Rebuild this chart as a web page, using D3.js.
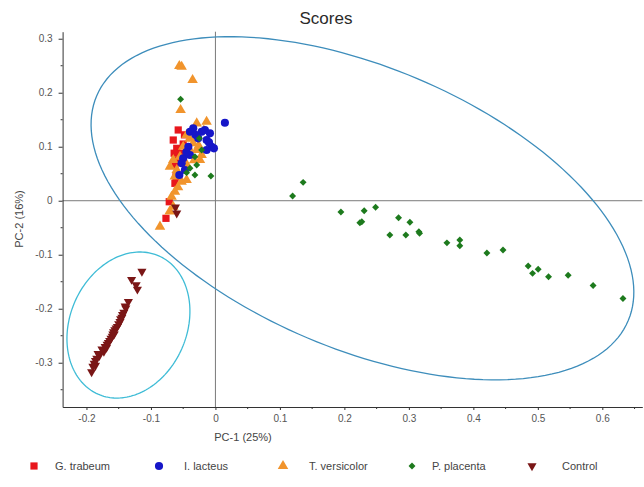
<!DOCTYPE html>
<html>
<head>
<meta charset="utf-8">
<script src="https://cdn.jsdelivr.net/npm/d3@7"></script>
<style>
  html, body { margin: 0; padding: 0; background: #fff; }
  svg { display: block; font-family: "Liberation Sans", Arial, sans-serif; }
</style>
</head>
<body>
<svg id="chart" width="644" height="487"></svg>
<script>
// PCA scores, [PC-1, PC-2]
const gTrabeum = [
  [-0.0577, 0.131], [-0.060, 0.097], [-0.055, 0.0878], [-0.0628, 0.066],
  [-0.0612, 0.0444], [-0.0628, 0.0322], [-0.0716, -0.0019], [-0.0767, -0.0326],
  [-0.0654, 0.1124], [-0.050, 0.105], [-0.058, 0.075], [-0.064, 0.088],
  [-0.048, 0.122]
];
const tVersicolor = [
  [-0.056, 0.2494], [-0.0524, 0.248], [-0.0354, 0.2235], [-0.054, 0.168],
  [-0.0137, 0.1463], [-0.029, 0.1433], [-0.0447, 0.1217], [-0.0344, 0.1063],
  [-0.029, 0.0939], [-0.0214, 0.0846], [-0.024, 0.0754], [-0.0395, 0.0939],
  [-0.055, 0.0815], [-0.0654, 0.0754], [-0.0705, 0.063], [-0.060, 0.0569],
  [-0.0524, 0.0352], [-0.0447, 0.0383], [-0.0628, 0.0167], [-0.068, 0.0074],
  [-0.0654, -0.0111], [-0.086, -0.048], [-0.040, 0.115], [-0.018, 0.130],
  [-0.050, 0.100], [-0.033, 0.075], [-0.045, 0.068], [-0.058, 0.025],
  [-0.036, 0.128], [-0.026, 0.102], [-0.063, 0.045], [-0.071, -0.020]
];
const iLacteus = [
  [0.0147, 0.1444], [-0.0163, 0.131], [-0.0085, 0.1248], [-0.0344, 0.134],
  [-0.0059, 0.100], [-0.0023, 0.097], [-0.0267, 0.1155], [-0.042, 0.100],
  [-0.050, 0.0785], [-0.0395, 0.0846], [-0.0524, 0.0693], [-0.056, 0.0476],
  [-0.0473, 0.0569], [-0.0137, 0.1124], [-0.0214, 0.1278], [-0.0395, 0.1278],
  [-0.0137, 0.0939], [-0.031, 0.122], [-0.045, 0.090], [-0.010, 0.108]
];
const pPlacenta = [
  [-0.054, 0.1878], [-0.007, 0.0457], [-0.0318, 0.0815], [-0.029, 0.066],
  [-0.0395, 0.060], [-0.0318, 0.0476], [-0.0447, 0.052], [-0.0214, 0.0939],
  [-0.025, 0.1155],
  [0.1197, 0.0087], [0.136, 0.034], [0.1946, -0.021], [0.2307, -0.0185],
  [0.2484, -0.0122], [0.224, -0.0407], [0.227, -0.039], [0.284, -0.0315],
  [0.3016, -0.040], [0.2705, -0.0635], [0.2953, -0.0635], [0.3155, -0.0574],
  [0.3166, -0.0604], [0.359, -0.078], [0.379, -0.0728], [0.379, -0.0833],
  [0.421, -0.0969], [0.446, -0.0913], [0.485, -0.121], [0.4918, -0.1345],
  [0.5005, -0.127], [0.5166, -0.1407], [0.547, -0.138], [0.5857, -0.157],
  [0.632, -0.181]
];
const control = [
  [-0.060, -0.023], [-0.062, -0.012],
  [-0.114, -0.131], [-0.130, -0.146], [-0.123, -0.156], [-0.121, -0.164],
  [-0.135, -0.187], [-0.139, -0.199], [-0.140, -0.195], [-0.142, -0.207],
  [-0.144, -0.211], [-0.145, -0.216], [-0.148, -0.224], [-0.150, -0.228],
  [-0.152, -0.233], [-0.154, -0.236], [-0.156, -0.239], [-0.158, -0.243],
  [-0.159, -0.247], [-0.160, -0.251], [-0.162, -0.255], [-0.164, -0.259],
  [-0.166, -0.263], [-0.168, -0.266], [-0.171, -0.270], [-0.173, -0.279],
  [-0.176, -0.275], [-0.180, -0.287], [-0.182, -0.283], [-0.184, -0.292],
  [-0.186, -0.296], [-0.186, -0.305], [-0.188, -0.301], [-0.190, -0.307],
  [-0.192, -0.317], [-0.147, -0.219], [-0.157, -0.247], [-0.169, -0.272]
];

// Confidence ellipses: centre and two conjugate semi-axis vectors (data units)
const ellipseMain = { center: [0.228, -0.014], u: [0.4122, -0.2080], v: [-0.0850, -0.2402] };
const ellipseControl = { center: [-0.1349, -0.2302], u: [0.04706, 0.12807], v: [0.08293, -0.04348] };

const xTicks = [-0.2, -0.1, 0, 0.1, 0.2, 0.3, 0.4, 0.5, 0.6];
const xTickLabels = ["-0.2", "-0.1", "0", "0.1", "0.2", "0.3", "0.4", "0.5", "0.6"];
const xMinorTicks = [-0.15, -0.05, 0.05, 0.15, 0.25, 0.35, 0.45, 0.55, 0.65];
const yTicks = [0.3, 0.2, 0.1, 0, -0.1, -0.2, -0.3];
const yTickLabels = ["0.3", "0.2", "0.1", "0", "-0.1", "-0.2", "-0.3"];
const yMinorTicks = [0.25, 0.15, 0.05, -0.05, -0.15, -0.25, -0.35];

const seriesNames = ["G. trabeum", "I. lacteus", "T. versicolor", "P. placenta", "Control"];

const svg = d3.select("#chart");

const x = d3.scaleLinear().domain([-0.237, 0.662]).range([62.6, 642.3]);
const y = d3.scaleLinear().domain([-0.382, 0.313]).range([407, 31.7]);

// Title
svg.append("text")
  .attr("x", 326).attr("y", 24)
  .attr("text-anchor", "middle")
  .attr("font-size", 17)
  .attr("fill", "#2a2a2a")
  .text("Scores");

// Zero reference lines
svg.append("line")
  .attr("x1", x.range()[0]).attr("x2", x.range()[1])
  .attr("y1", y(0)).attr("y2", y(0))
  .attr("stroke", "#7a7a7a").attr("stroke-width", 1);
svg.append("line")
  .attr("x1", x(0)).attr("x2", x(0))
  .attr("y1", y.range()[0]).attr("y2", y.range()[1])
  .attr("stroke", "#7a7a7a").attr("stroke-width", 1);

// Axes
const axisColor = "#333";
const xAxis = d3.axisBottom(x).tickValues(xTicks)
  .tickFormat((d, i) => xTickLabels[i]).tickSize(3).tickSizeOuter(0);
const gx = svg.append("g").attr("transform", `translate(0,${y.range()[0]})`).call(xAxis);
gx.select(".domain").attr("stroke", axisColor);
gx.selectAll(".tick line").attr("stroke", axisColor);
gx.selectAll(".tick text").attr("font-size", 10).attr("fill", "#555")
  .attr("font-family", "Liberation Sans, Arial, sans-serif").attr("dy", "0.9em");
gx.selectAll(".minor").data(xMinorTicks).enter().append("line")
  .attr("class", "minor")
  .attr("x1", d => x(d)).attr("x2", d => x(d))
  .attr("y1", 0).attr("y2", 2)
  .attr("stroke", axisColor);

const yAxis = d3.axisLeft(y).tickValues(yTicks)
  .tickFormat((d, i) => yTickLabels[i]).tickSize(4).tickSizeOuter(0);
const gy = svg.append("g").attr("transform", `translate(${x.range()[0]},0)`).call(yAxis);
gy.select(".domain").attr("stroke", axisColor);
gy.selectAll(".tick line").attr("stroke", axisColor);
gy.selectAll(".tick text").attr("font-size", 10).attr("fill", "#555")
  .attr("font-family", "Liberation Sans, Arial, sans-serif").attr("x", -10);
gy.selectAll(".minor").data(yMinorTicks).enter().append("line")
  .attr("class", "minor")
  .attr("x1", -2).attr("x2", 0)
  .attr("y1", d => y(d)).attr("y2", d => y(d))
  .attr("stroke", axisColor);

// Axis titles
svg.append("text")
  .attr("x", 243).attr("y", 441)
  .attr("text-anchor", "middle").attr("font-size", 11).attr("fill", "#444")
  .text("PC-1 (25%)");
svg.append("text")
  .attr("transform", "translate(23,219) rotate(-90)")
  .attr("text-anchor", "middle").attr("font-size", 11).attr("fill", "#444")
  .text("PC-2 (16%)");

// Ellipses
function ellipsePath(e) {
  const ts = d3.range(0, 361, 2).map(a => a * Math.PI / 180);
  const pts = ts.map(t => [
    x(e.center[0] + e.u[0] * Math.cos(t) + e.v[0] * Math.sin(t)),
    y(e.center[1] + e.u[1] * Math.cos(t) + e.v[1] * Math.sin(t))
  ]);
  return d3.line().curve(d3.curveLinearClosed)(pts);
}
svg.append("path").attr("d", ellipsePath(ellipseMain))
  .attr("fill", "none").attr("stroke", "#3d8dbb").attr("stroke-width", 1.3);
svg.append("path").attr("d", ellipsePath(ellipseControl))
  .attr("fill", "none").attr("stroke", "#3fbcd6").attr("stroke-width", 1.3);

// Markers
const styles = {
  "G. trabeum":    { data: gTrabeum,    color: "#e8161c", sym: d3.symbolSquare,   size: 52, rot: 0 },
  "T. versicolor": { data: tVersicolor, color: "#f1942c", sym: d3.symbolTriangle, size: 48, rot: 0 },
  "I. lacteus":    { data: iLacteus,    color: "#1616c8", sym: d3.symbolCircle,   size: 52, rot: 0 },
  "P. placenta":   { data: pPlacenta,   color: "#1d7a1d", sym: d3.symbolSquare,   size: 24, rot: 45 },
  "Control":       { data: control,     color: "#7a1616", sym: d3.symbolTriangle, size: 36, rot: 180 }
};
const drawOrder = ["G. trabeum", "T. versicolor", "I. lacteus", "P. placenta", "Control"];
drawOrder.forEach(name => {
  const s = styles[name];
  svg.append("g").selectAll("path").data(s.data).enter().append("path")
    .attr("d", d3.symbol().type(s.sym).size(s.size)())
    .attr("transform", d => `translate(${x(d[0])},${y(d[1])}) rotate(${s.rot})`)
    .attr("fill", s.color);
});

// Legend
const legendX = [34, 159, 283, 412, 532];
const legendY = 466;
const lg = svg.append("g").selectAll("g").data(seriesNames).enter().append("g")
  .attr("transform", (d, i) => `translate(${legendX[i]},${legendY})`);
lg.append("path")
  .attr("d", d => d3.symbol().type(styles[d].sym).size(styles[d].size)())
  .attr("transform", d => `rotate(${styles[d].rot})`)
  .attr("fill", d => styles[d].color);
lg.append("text")
  .attr("x", (d, i) => [21, 25, 26, 20, 30][i])
  .attr("y", 4)
  .attr("font-size", 11).attr("fill", "#444")
  .text(d => d);
</script>
</body>
</html>
